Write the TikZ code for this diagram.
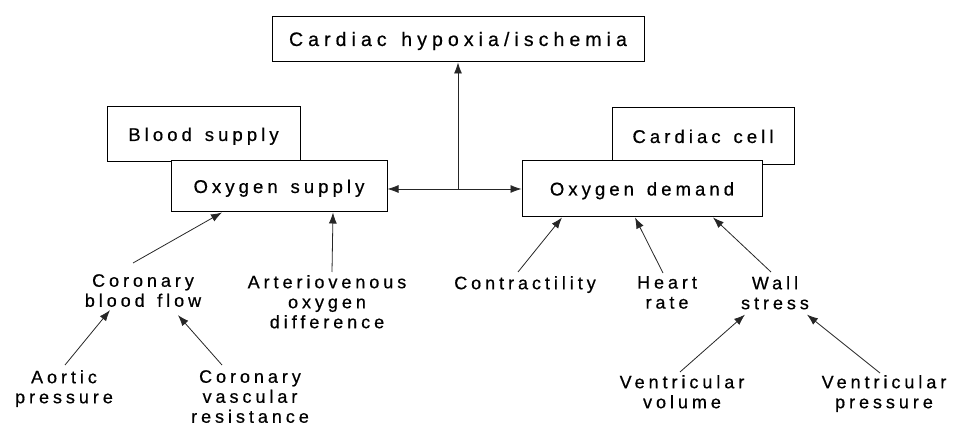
\documentclass[tikz,border=0pt]{standalone}
\usepackage{fontspec}
\usetikzlibrary{arrows.meta}
\newfontfamily\labfont{Liberation Sans}[LetterSpace=22,WordSpace=1.4,FakeBold=0.6]
\newfontfamily\topfont{Liberation Sans}[LetterSpace=26,WordSpace=1.4,FakeBold=0.6]
\tikzset{
  box/.style={draw, line width=1pt, fill=white, inner sep=0pt, text height=13pt, text depth=0pt,
    font=\labfont\fontsize{18.5}{20}\selectfont},
  lab/.style={align=center, inner sep=0pt, anchor=north, font=\labfont\fontsize{18}{20}\selectfont},
  arr/.style={-{Latex[length=11pt,width=8pt]}, line width=0.8pt, draw=black!85}
}
\begin{document}
\begin{tikzpicture}[x=1pt,y=-1pt]
\useasboundingbox (0,0) rectangle (978,427);
% boxes
\node[box, minimum width=372pt, minimum height=45pt, font=\topfont\fontsize{19.5}{20}\selectfont] (top) at (458,39.5) {Cardiac hypoxia/ischemia};
\node[box, minimum width=193pt, minimum height=55pt] (bsup) at (203.5,134.5) {Blood supply};
\node[box, minimum width=216pt, minimum height=51pt] (osup) at (279,186.5) {Oxygen supply};
\node[box, minimum width=182pt, minimum height=57pt] (ccell) at (703,136.5) {Cardiac cell};
\node[box, minimum width=240pt, minimum height=56pt] (odem) at (642,189) {Oxygen demand};
% labels
\node[lab] (cbf) at (143,274) {Coronary\\blood flow};
\node[lab] (aod) at (327,275) {Arteriovenous\\oxygen\\difference};
\node[lab] (ap) at (64,370) {Aortic\\pressure};
\node[lab] (cvr) at (250,370) {Coronary\\vascular\\resistance};
\node[lab] (contr) at (525,276) {Contractility};
\node[lab] (hr) at (667,276) {Heart\\rate};
\node[lab] (ws) at (775,276) {Wall\\stress};
\node[lab] (vv) at (682,375) {Ventricular\\volume};
\node[lab] (vp) at (884,375) {Ventricular\\pressure};
% junction
\coordinate (j) at (458,189);
\draw[arr] (j) -- (osup.east |- j);
\draw[arr] (j) -- (odem.west |- j);
\draw[arr] (j) -- (top.south);
% arrows
\draw[arr] ([xshift=-10pt,yshift=11pt]cbf.north) -- ([xshift=-57pt]osup.south);
\draw[arr] ([xshift=1pt,yshift=5pt]ap.north) -- ([xshift=-33pt,yshift=-3pt]cbf.south);
\draw[arr] ([xshift=-28pt,yshift=5pt]cvr.north) -- ([xshift=35pt,yshift=-8pt]cbf.south);
\draw[arr] ([xshift=5pt,yshift=3pt]aod.north) -- ([xshift=54pt]osup.south);
\draw[arr] ([xshift=-7pt,yshift=4pt]contr.north) -- ([xshift=-80pt]odem.south);
\draw[arr] ([xshift=-4pt,yshift=3pt]hr.north) -- ([xshift=-7pt]odem.south);
\draw[arr] ([xshift=-4pt,yshift=4pt]ws.north) -- ([xshift=71pt]odem.south);
\draw[arr] ([xshift=-2pt,yshift=3pt]vv.north) -- ([xshift=-30pt,yshift=-5pt]ws.south);
\draw[arr] ([xshift=-4pt,yshift=2pt]vp.north) -- ([xshift=32pt,yshift=-5pt]ws.south);
\end{tikzpicture}
\end{document}
